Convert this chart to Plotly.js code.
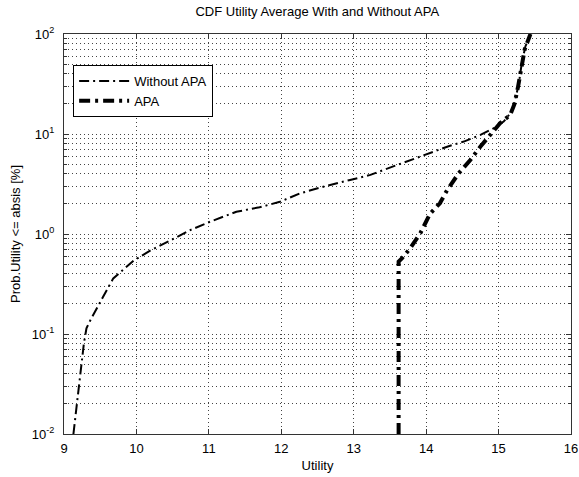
<!DOCTYPE html>
<html>
<head>
<meta charset="utf-8">
<script src="https://cdn.plot.ly/plotly-3.0.1.min.js"></script>
<style>html,body{margin:0;padding:0;background:#fff;}#chart{width:579px;height:477px;}</style>
</head>
<body>
<div id="chart"></div>
<script>
// Without APA (thin dash-dot)
const withoutX = [9.13, 9.175, 9.21, 9.245, 9.275, 9.31, 9.37, 9.54, 9.68, 9.96, 10.2, 10.48, 10.75, 11.02, 11.38, 11.7, 11.98, 12.26, 12.58, 12.95, 13.23, 13.6, 14.03, 14.3, 14.52, 14.75, 14.93, 15.07, 15.18, 15.23, 15.28, 15.32, 15.37, 15.44];
const withoutY = [0.01, 0.019, 0.032, 0.051, 0.081, 0.114, 0.14, 0.236, 0.36, 0.54, 0.69, 0.87, 1.1, 1.33, 1.67, 1.85, 2.1, 2.55, 2.97, 3.47, 3.9, 4.9, 6.4, 7.5, 8.4, 9.8, 11.4, 13.3, 16.7, 22, 32, 51, 75, 100];
// APA (thick dash-dot)
const apaX = [13.62, 13.62, 13.665, 13.78, 13.92, 14.055, 14.19, 14.29, 14.45, 14.61, 14.75, 14.88, 15.02, 15.16, 15.22, 15.27, 15.31, 15.36, 15.44];
const apaY = [0.01, 0.53, 0.57, 0.72, 1.02, 1.6, 2.03, 2.75, 4.05, 5.5, 7.5, 9.8, 12.8, 15.5, 20, 30, 45, 70, 100];

const xTicks = [9, 10, 11, 12, 13, 14, 15, 16];
const yTickVals = [0.01, 0.1, 1, 10, 100];
const yTickText = ['10<sup>-2</sup>', '10<sup>-1</sup>', '10<sup>0</sup>', '10<sup>1</sup>', '10<sup>2</sup>'];

const titleText = 'CDF Utility Average With and Without APA';
const xTitle = 'Utility';
const yTitle = 'Prob.Utility <= absis [%]';

const fam = 'Liberation Sans, Arial, sans-serif';
const f13 = {family: fam, size: 13, color: '#000'};
const gridStyle = {gridcolor: '#444', griddash: '1px,3px', gridwidth: 1};

const traces = [
  {x: withoutX, y: withoutY, type: 'scatter', mode: 'lines', name: 'Without APA',
   line: {color: '#000', width: 2, dash: '10px,4px,2px,4px'}},
  {x: apaX, y: apaY, type: 'scatter', mode: 'lines', name: 'APA',
   line: {color: '#000', width: 4, dash: '11px,5px,3px,5px'}}
];

const layout = {
  width: 579, height: 477,
  margin: {l: 64, r: 8, t: 34, b: 43},
  paper_bgcolor: '#fff', plot_bgcolor: '#fff',
  font: f13,
  showlegend: true,
  title: {text: titleText, font: f13, x: 0.548, xanchor: 'center', y: 0.975, yanchor: 'middle'},
  xaxis: Object.assign({
    range: [9, 16], tickvals: xTicks, ticktext: xTicks.map(String),
    showgrid: true, zeroline: false,
    showline: true, linecolor: '#333', linewidth: 1, mirror: 'ticks',
    ticks: 'inside', ticklen: 5, tickcolor: '#333',
    tickfont: f13, ticklabelstandoff: 2,
    title: {text: xTitle, font: f13, standoff: 6}
  }, gridStyle),
  yaxis: Object.assign({
    type: 'log', range: [-2, 2], tickvals: yTickVals, ticktext: yTickText,
    showgrid: true, zeroline: false,
    showline: true, linecolor: '#333', linewidth: 1, mirror: 'ticks',
    ticks: 'inside', ticklen: 5, tickcolor: '#333',
    tickfont: f13, ticklabelstandoff: 6,
    title: {text: yTitle, font: f13, standoff: 8},
    minor: {dtick: 'D1', showgrid: true, gridcolor: '#444', griddash: '1px,3px', gridwidth: 1, ticks: 'inside', ticklen: 3, tickcolor: '#333'}
  }, gridStyle),
  legend: {x: 0.018, y: 0.9225, xanchor: 'left', yanchor: 'top',
    bgcolor: '#fff', bordercolor: '#000', borderwidth: 1,
    font: f13, tracegroupgap: 0, itemwidth: 50}
};

Plotly.newPlot('chart', traces, layout, {displayModeBar: false, staticPlot: true});
</script>
</body>
</html>
